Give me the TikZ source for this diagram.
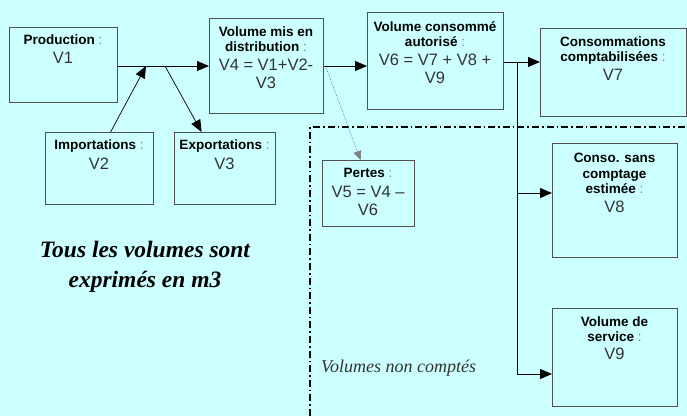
\documentclass[tikz,border=0pt]{standalone}
\usepackage{fontspec}
\setmainfont{Liberation Sans}
\newfontfamily\serifit{Liberation Serif}
\usetikzlibrary{arrows.meta}
\definecolor{bgc}{HTML}{CCFFFF}
\definecolor{edge}{HTML}{505050}
\definecolor{valc}{HTML}{333333}
\tikzset{
  box/.style={draw=edge, line width=1.2pt, anchor=north west, inner sep=0pt},
  hd/.style={align=center, inner sep=0pt, font=\fontsize{13.5}{15.3}\selectfont\bfseries},
  val/.style={align=center, inner sep=0pt, text=valc, font=\fontsize{16.5}{18}\selectfont},
  arr/.style={line width=0.9pt, -{Triangle[length=12pt,width=10pt]}},
  thinarr/.style={line width=0.7pt, -{Triangle[length=12pt,width=10pt]}},
  lossarr/.style={line width=0.7pt, draw=gray, densely dotted, -{Triangle[length=9pt,width=8pt,fill=gray]}},
  plain/.style={line width=0.9pt},
  zone/.style={line width=1.6pt, dash pattern=on 7pt off 3pt on 1.6pt off 3pt},
}
\newcommand{\cl}{{\mdseries\color{gray}:}}
\begin{document}
\begin{tikzpicture}[x=1pt,y=-1pt]
\fill[bgc] (0,0) rectangle (687,416);
\useasboundingbox (0,0) rectangle (687,416);

% boxes
\node[box, minimum width=108pt, minimum height=75pt] (prod) at (9,27) {};
\node[box, minimum width=114pt, minimum height=95pt] (v4) at (209,18) {};
\node[box, minimum width=136pt, minimum height=97pt] (v6) at (367,12) {};
\node[box, minimum width=146pt, minimum height=88pt] (v7) at (540,28) {};
\node[box, minimum width=108pt, minimum height=72pt] (imp) at (45,132) {};
\node[box, minimum width=101pt, minimum height=72pt] (exp) at (174,132) {};
\node[box, minimum width=92pt, minimum height=66pt] (pertes) at (322,160) {};
\node[box, minimum width=125pt, minimum height=114pt] (v8) at (552,143) {};
\node[box, minimum width=125pt, minimum height=98pt] (v9) at (552,308) {};

% texts
\node[hd] (prodh) at (63,40) {Production \cl};
\node[val] (prodv) at (63,58) {V1};
\node[hd] (v4h) at (266,39) {Volume mis en\\distribution \cl};
\node[val] (v4v) at (266,74) {V4 = V1+V2-\\V3};
\node[hd] (v6h) at (435,34) {Volume consommé\\autorisé \cl};
\node[val] (v6v) at (435,69) {V6 = V7 + V8 +\\V9};
\node[hd] (v7h) at (613,50.5) {Consommations\\comptabilisées \cl};
\node[val] (v7v) at (613,75) {V7};
\node[hd] (imph) at (99,146) {Importations \cl};
\node[val] (impv) at (99,164) {V2};
\node[hd] (exph) at (224.5,146) {Exportations \cl};
\node[val] (expv) at (224.5,164) {V3};
\node[hd] (perth) at (368,173) {Pertes \cl};
\node[val] (pertv) at (368,200.5) {V5 = V4 –\\V6};
\node[hd] (v8h) at (614.5,173.5) {Conso. sans\\comptage\\estimée \cl};
\node[val] (v8v) at (614.5,207) {V8};
\node[hd] (v9h) at (614.5,329.5) {Volume de\\service \cl};
\node[val] (v9v) at (614.5,354) {V9};

\node[align=center, inner sep=0pt, font=\serifit\fontsize{23.5}{30}\selectfont\bfseries\itshape] (note) at (145,267) {Tous les volumes sont\\exprimés en m3};
\node[anchor=west, inner sep=0pt, text=valc, font=\serifit\fontsize{18}{20}\selectfont\itshape] (nc) at (321,368) {Volumes non comptés};

% zone of non-counted volumes
\draw[zone] (310,416) -- (310,127) -- (687,127);

% connectors
\coordinate (jin) at (146,66);
\coordinate (jout) at (165,66);
\coordinate (split) at (517,62);
\coordinate (b8) at (517,193);
\coordinate (b9) at (517,374);

\draw[arr] (prod.east |- jin) -- (v4.west |- jin);
\draw[thinarr] ([xshift=11pt]imp.north) -- (jin);
\draw[thinarr] (jout) -- ([xshift=-23.5pt]exp.north);
\draw[arr] (v4.east |- jin) -- (v6.west |- jin);
\draw[lossarr] ([xshift=2pt,yshift=-2pt]v4.east |- jin) -- ([xshift=-8pt]pertes.north);
\draw[arr] (v6.east |- split) -- (v7.west |- split);
\draw[plain] (split) -- (b9);
\draw[arr] (b8) -- (v8.west |- b8);
\draw[arr] (b9) -- (v9.west |- b9);
\end{tikzpicture}
\end{document}
